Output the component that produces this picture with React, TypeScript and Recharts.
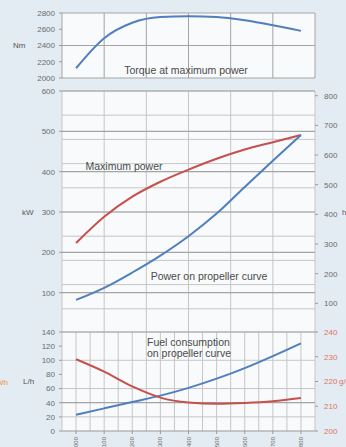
import React from 'react'
import {
  ComposedChart,
  Line,
  XAxis,
  YAxis,
  CartesianGrid,
  ReferenceLine,
} from 'recharts'

// engine speed, rpm
const rpm = [1000, 1100, 1200, 1300, 1400, 1500, 1600, 1700, 1800]
const torqueNm = [2120, 2490, 2680, 2750, 2760, 2750, 2710, 2650, 2580]
const maxPowerKw = [223, 288, 338, 375, 405, 432, 455, 473, 491]
const propPowerKw = [82, 112, 150, 192, 240, 296, 362, 427, 491]
const fuelLh = [23, 32, 41, 50, 61, 74, 89, 106, 124]
const sfcGkwh = [229, 224, 218, 213.5, 211.5, 211, 211.3, 212, 213.3]

const torqueTicks = [2000, 2200, 2400, 2600, 2800]
const kwTicks = [100, 200, 300, 400, 500, 600]
const hpTicks = [100, 200, 300, 400, 500, 600, 700, 800]
const lhTicks = [0, 20, 40, 60, 80, 100, 120, 140]
const sfcTicks = [200, 210, 220, 230, 240]

const data = rpm.map((r, i) => ({
  rpm: r,
  torque: torqueNm[i],
  maxPower: maxPowerKw[i],
  propPower: propPowerKw[i],
  fuel: fuelLh[i],
  sfc: sfcGkwh[i],
}))

const FONT = '"Liberation Sans", Arial, sans-serif'
const BLUE = '#4f7fbd'
const RED = '#c5504d'
const GRID = '#c6c6c6'
const MAJOR = '#a4a4a4'
const X_DOMAIN = [950, 1850]
const xGrid: number[] = []
for (let v = 950; v <= 1850; v += 50) xGrid.push(v)
const kwMinor: number[] = []
for (let v = 0; v <= 600; v += 20) kwMinor.push(v)

const tickStyle = { fontSize: 8, fill: '#6b6b6b', fontFamily: FONT }

const RotTick = (props: any) => {
  const { x, y, payload } = props
  return (
    <text
      x={x}
      y={y}
      transform={`rotate(-90 ${x} ${y})`}
      textAnchor="end"
      dy="0.35em"
      fontSize={6}
      fill="#6b6b6b"
      fontFamily={FONT}
    >
      {payload.value}
    </text>
  )
}

const note = (text: string, left: number, top: number, center = true) => (
  <div
    style={{
      position: 'absolute',
      left,
      top,
      transform: center ? 'translate(-50%, -50%)' : 'translate(0, -50%)',
      fontSize: 10.5,
      color: '#4a4a4a',
      whiteSpace: 'nowrap',
      fontFamily: FONT,
    }}
  >
    {text}
  </div>
)

export default function App() {
  return (
    <div
      style={{
        position: 'absolute',
        left: 0,
        top: 0,
        width: 346,
        height: 447,
        background: '#e4ecf3',
        overflow: 'hidden',
        fontFamily: FONT,
      }}
    >
      {/* torque */}
      <div style={{ position: 'absolute', left: 0, top: 0 }}>
        <ComposedChart
          width={346}
          height={90}
          data={data}
          margin={{ top: 13, right: 31, bottom: 12, left: 0 }}
        >
          <XAxis dataKey="rpm" type="number" domain={X_DOMAIN} hide />
          <YAxis
            yAxisId="l"
            width={62}
            domain={[2000, 2800]}
            ticks={torqueTicks}
            tick={tickStyle}
            tickSize={3}
            tickMargin={4}
            axisLine={false}
            tickLine={{ stroke: '#999' }}
            label={{ value: 'Nm', position: 'insideLeft', offset: 13, style: { fontSize: 8, fill: '#555' } }}
          />
          <CartesianGrid
            yAxisId="l"
            fill="#f8fafc"
            stroke={MAJOR}
            horizontalValues={torqueTicks}
            verticalValues={xGrid}
          />
          <Line
            yAxisId="l"
            type="monotone"
            dataKey="torque"
            stroke={BLUE}
            strokeWidth={2}
            dot={false}
            isAnimationActive={false}
          />
        </ComposedChart>
      </div>

      {/* power */}
      <div style={{ position: 'absolute', left: 0, top: 80 }}>
        <ComposedChart
          width={346}
          height={255}
          data={data}
          margin={{ top: 11, right: 0, bottom: 2, left: 0 }}
        >
          <XAxis dataKey="rpm" type="number" domain={X_DOMAIN} hide />
          <YAxis
            yAxisId="l"
            width={62}
            domain={[0, 600]}
            ticks={kwTicks}
            tick={tickStyle}
            tickSize={3}
            tickMargin={4}
            axisLine={false}
            tickLine={{ stroke: '#999' }}
            label={{ value: 'kW', position: 'insideLeft', offset: 22, style: { fontSize: 8, fill: '#555' } }}
          />
          <YAxis
            yAxisId="r"
            orientation="right"
            width={31}
            domain={[0, 816]}
            allowDataOverflow
            ticks={hpTicks}
            tick={tickStyle}
            tickSize={3}
            tickMargin={6}
            axisLine={false}
            tickLine={{ stroke: '#999' }}
            label={{ value: 'hp', position: 'insideLeft', offset: 27, style: { fontSize: 8, fill: '#555' } }}
          />
          <CartesianGrid
            yAxisId="l"
            fill="#f8fafc"
            stroke={GRID}
            horizontalValues={kwMinor}
            verticalValues={xGrid}
          />
          {kwTicks.map((v) => (
            <ReferenceLine key={v} yAxisId="l" y={v} stroke={MAJOR} strokeWidth={1.2} />
          ))}
          <Line
            yAxisId="l"
            type="monotone"
            dataKey="maxPower"
            stroke={RED}
            strokeWidth={2}
            dot={false}
            isAnimationActive={false}
          />
          <Line
            yAxisId="l"
            type="monotone"
            dataKey="propPower"
            stroke={BLUE}
            strokeWidth={2}
            dot={false}
            isAnimationActive={false}
          />
        </ComposedChart>
      </div>

      {/* fuel */}
      <div style={{ position: 'absolute', left: 0, top: 320 }}>
        <ComposedChart
          width={346}
          height={127}
          data={data}
          margin={{ top: 12, right: 0, bottom: 0, left: 0 }}
        >
          <XAxis
            dataKey="rpm"
            type="number"
            domain={X_DOMAIN}
            ticks={rpm}
            interval={0}
            height={16}
            tick={<RotTick />}
            tickSize={3}
            tickMargin={3}
            axisLine={{ stroke: '#999' }}
            tickLine={{ stroke: '#999' }}
          />
          <YAxis
            yAxisId="l"
            width={62}
            domain={[0, 140]}
            ticks={lhTicks}
            tick={tickStyle}
            tickSize={3}
            tickMargin={4}
            axisLine={false}
            tickLine={{ stroke: '#999' }}
            label={{ value: 'L/h', position: 'insideLeft', offset: 23, style: { fontSize: 8, fill: '#555' } }}
          />
          <YAxis
            yAxisId="r"
            orientation="right"
            width={31}
            domain={[200, 240]}
            ticks={sfcTicks}
            tick={{ ...tickStyle, fill: '#e0735f' }}
            tickSize={3}
            tickMargin={6}
            axisLine={false}
            tickLine={{ stroke: '#999' }}
            label={{ value: 'g/kWh', position: 'insideLeft', offset: 24, style: { fontSize: 8, fill: '#e0735f' } }}
          />
          <CartesianGrid
            yAxisId="l"
            fill="#f8fafc"
            stroke={GRID}
            horizontalValues={lhTicks}
            verticalValues={xGrid}
          />
          <ReferenceLine yAxisId="l" y={40} stroke={MAJOR} strokeWidth={1.2} />
          <ReferenceLine yAxisId="l" y={140} stroke={MAJOR} strokeWidth={1.2} />
          <Line
            yAxisId="l"
            type="monotone"
            dataKey="fuel"
            stroke={BLUE}
            strokeWidth={2}
            dot={false}
            isAnimationActive={false}
          />
          <Line
            yAxisId="r"
            type="monotone"
            dataKey="sfc"
            stroke={RED}
            strokeWidth={2}
            dot={false}
            isAnimationActive={false}
          />
        </ComposedChart>
      </div>

      {note('Torque at maximum power', 186, 70)}
      {note('Maximum power', 124, 166)}
      {note('Power on propeller curve', 209, 276)}
      {note('Fuel consumption', 147, 342, false)}
      {note('on propeller curve', 147, 353, false)}
      <div
        style={{
          position: 'absolute',
          right: 338,
          top: 382,
          transform: 'translateY(-50%)',
          fontSize: 8,
          color: '#e8963c',
          whiteSpace: 'nowrap',
        }}
      >
        g/kWh
      </div>
    </div>
  )
}
